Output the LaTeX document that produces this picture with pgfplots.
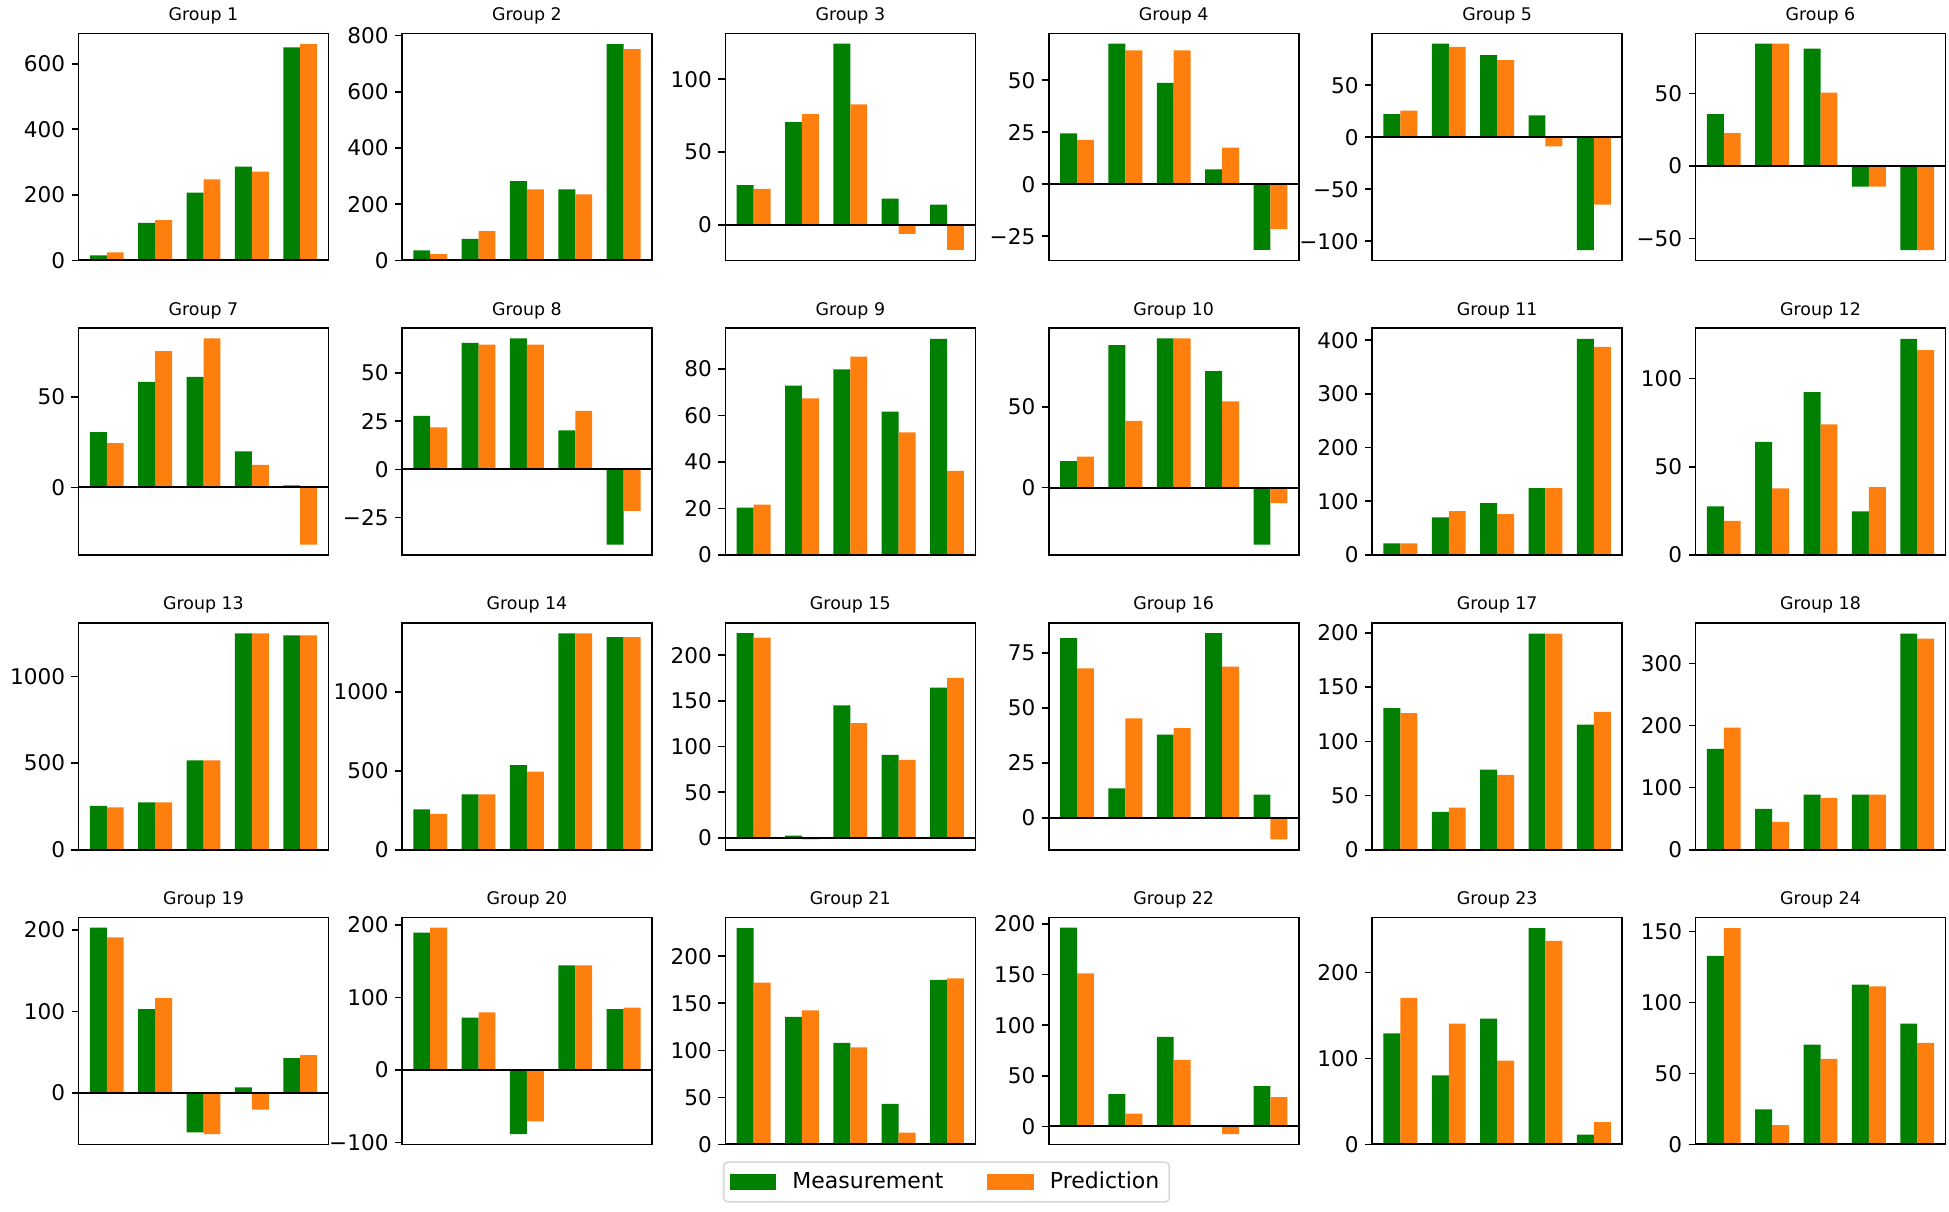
\documentclass[border=0pt]{standalone}
\usepackage{fontspec}
\setmainfont{DejaVu Sans}
\usepackage{pgfplots}
\usepackage{pgfplotstable}
\pgfplotsset{compat=1.18}
\definecolor{mgreen}{HTML}{008000}
\definecolor{morange}{HTML}{FF7F0E}

\pgfplotstableread{
i m p
0 15 24
1 114 123
2 207 247
3 286 271
4 650 660
}\tA
\pgfplotstableread{
i m p
0 35 22
1 76 104
2 282 253
3 253 235
4 770 752
}\tB
\pgfplotstableread{
i m p
0 27.2 24.6
1 70.5 76
2 124.4 82.7
3 18 -6.2
4 13.8 -17.3
}\tC
\pgfplotstableread{
i m p
0 24.5 21.3
1 67.6 64.4
2 48.7 64.4
3 7.1 17.6
4 -31.6 -21.6
}\tD
\pgfplotstableread{
i m p
0 22.3 25.5
1 90 86.8
2 79 74.2
3 21 -8.7
4 -108.4 -64.8
}\tE
\pgfplotstableread{
i m p
0 35.9 22.7
1 84.5 84.5
2 81 50.7
3 -14.1 -14.1
4 -57.9 -57.9
}\tF
\pgfplotstableread{
i m p
0 30.5 24.4
1 58.3 75.2
2 61 82.3
3 19.9 12.5
4 1.1 -31.6
}\tG
\pgfplotstableread{
i m p
0 27.7 21.8
1 65.6 64.7
2 68 64.7
3 20.2 30.4
4 -39.1 -21.6
}\tH
\pgfplotstableread{
i m p
0 20.4 21.7
1 72.9 67.4
2 79.9 85.3
3 61.7 52.8
4 93 36.2
}\tI
\pgfplotstableread{
i m p
0 16.3 19.2
1 88.4 41.3
2 92.6 92.6
3 72.3 53.5
4 -35.5 -9.7
}\tJ
\pgfplotstableread{
i m p
0 21.6 21.6
1 69.9 81.6
2 96.4 76
3 124.3 124.3
4 402.5 387.6
}\tK
\pgfplotstableread{
i m p
0 27.6 19.4
1 64.1 37.8
2 92.3 74.1
3 24.8 38.5
4 122.6 116.2
}\tL
\pgfplotstableread{
i m p
0 253 244
1 273 273
2 516 516
3 1249 1249
4 1238 1238
}\tM
\pgfplotstableread{
i m p
0 256 227
1 350 350
2 536 494
3 1369 1369
4 1346 1346
}\tN
\pgfplotstableread{
i m p
0 224.3 219.3
1 2.5 -1.7
2 145.2 125.6
3 90.8 85.3
4 164.4 175.3
}\tO
\pgfplotstableread{
i m p
0 81.8 68
1 13.5 45.3
2 37.9 40.9
3 84.1 68.8
4 10.6 -9.7
}\tP
\pgfplotstableread{
i m p
0 130.5 125.9
1 34.9 38.9
2 73.8 69.1
3 199.4 199.4
4 115.4 127.1
}\tQ
\pgfplotstableread{
i m p
0 162.4 197
1 65.8 44.8
2 89 83.6
3 89 89
4 348.6 340.5
}\tR
\pgfplotstableread{
i m p
0 202.9 190.9
1 102.9 116.5
2 -48.8 -50.8
3 6.6 -20.7
4 42.6 46.3
}\tS
\pgfplotstableread{
i m p
0 189.2 196.1
1 72.3 79.3
2 -88.5 -70.9
3 144.2 144.2
4 83.9 85.8
}\tT
\pgfplotstableread{
i m p
0 229.7 171.8
1 135.4 142.4
2 107.8 103.2
3 43.1 12.4
4 174.9 176.3
}\tU
\pgfplotstableread{
i m p
0 196.3 151.2
1 31.9 12.6
2 88.4 65.8
3 1.3 -7.6
4 39.9 28.9
}\tV
\pgfplotstableread{
i m p
0 129.3 170.5
1 80.4 140.6
2 146.4 97.5
3 251.6 236.9
4 11.3 26
}\tW
\pgfplotstableread{
i m p
0 132.8 152.3
1 24.7 13.6
2 70.3 60.2
3 112.6 111.4
4 85.1 71.5
}\tX

\pgfplotsset{
  panel/.style={
    scale only axis, width=125pt, height=113.5pt, anchor=north west,
    xmin=-0.585, xmax=4.585, xtick=\empty, clip=false,
    axis line style={line width=0.8pt},
    tick align=outside, major tick length=3.5pt,
    tick style={black, line width=0.8pt},
    ytick pos=left,
    yticklabel style={font=\fontsize{10.8}{13}\selectfont, inner sep=0pt, xshift=-3pt},
    every axis title shift=0pt,
    title style={font=\fontsize{8.7}{10}\selectfont, at={(0.5,1)}, anchor=base, inner sep=0pt, yshift=6.5pt},
  }
}
\newcommand{\grp}[8]{%
\begin{axis}[panel, at={(#3pt,-#4pt)}, ymin=#5, ymax=#6, ytick={#7}, yticklabels={#8}, title={Group #1}]
\addplot[ybar, bar width=0.35, bar shift=0pt, fill=mgreen, draw=none] table[x expr=\thisrow{i}-0.175, y=m] {#2};
\addplot[ybar, bar width=0.35, bar shift=0pt, fill=morange, draw=none] table[x expr=\thisrow{i}+0.175, y=p] {#2};
\addplot[black, line width=1pt, mark=none] coordinates {(-0.585,0) (4.585,0)};
\end{axis}}

\begin{document}
\begin{tikzpicture}
\useasboundingbox (0,0) rectangle (974.5pt,-605.5pt);
\grp{1}{\tA}{39.25}{16.65}{0}{693}{0,200,400,600}{0,200,400,600}
\grp{2}{\tB}{200.95}{16.65}{0}{808.5}{0,200,400,600,800}{0,200,400,600,800}
\grp{3}{\tC}{362.65}{16.65}{-24.4}{131.5}{0,50,100}{0,50,100}
\grp{4}{\tD}{524.35}{16.65}{-36.56}{72.56}{-25,0,25,50}{−25,0,25,50}
\grp{5}{\tE}{686.05}{16.65}{-118.3}{99.9}{-100,-50,0,50,100}{−100,−50,0,50,100}
\grp{6}{\tF}{847.75}{16.65}{-65}{91.6}{-50,0,50}{−50,0,50}
\grp{7}{\tG}{39.25}{164}{-37.3}{88}{0,50}{0,50}
\grp{8}{\tH}{200.95}{164}{-44.46}{73.36}{-25,0,25,50}{−25,0,25,50}
\grp{9}{\tI}{362.65}{164}{0}{97.65}{0,20,40,60,80}{0,20,40,60,80}
\grp{10}{\tJ}{524.35}{164}{-41.9}{99}{0,50}{0,50}
\grp{11}{\tK}{686.05}{164}{0}{422.6}{0,100,200,300,400}{0,100,200,300,400}
\grp{12}{\tL}{847.75}{164}{0}{128.7}{0,50,100}{0,50,100}
\grp{13}{\tM}{39.25}{311.35}{0}{1311}{0,500,1000}{0,500,1000}
\grp{14}{\tN}{200.95}{311.35}{0}{1437}{0,500,1000}{0,500,1000}
\grp{15}{\tO}{362.65}{311.35}{-13}{235.6}{0,50,100,150,200}{0,50,100,150,200}
\grp{16}{\tP}{524.35}{311.35}{-14.39}{88.79}{0,25,50,75}{0,25,50,75}
\grp{17}{\tQ}{686.05}{311.35}{0}{209.4}{0,50,100,150,200}{0,50,100,150,200}
\grp{18}{\tR}{847.75}{311.35}{0}{366}{0,100,200,300}{0,100,200,300}
\grp{19}{\tS}{39.25}{458.7}{-63.49}{215.59}{0,100,200}{0,100,200}
\grp{20}{\tT}{200.95}{458.7}{-102.73}{210.33}{-100,0,100,200}{−100,0,100,200}
\grp{21}{\tU}{362.65}{458.7}{0}{241.2}{0,50,100,150,200}{0,50,100,150,200}
\grp{22}{\tV}{524.35}{458.7}{-17.8}{206.5}{0,50,100,150,200}{0,50,100,150,200}
\grp{23}{\tW}{686.05}{458.7}{0}{264.2}{0,100,200}{0,100,200}
\grp{24}{\tX}{847.75}{458.7}{0}{159.9}{0,50,100,150}{0,50,100,150}
\begin{axis}[hide axis, scale only axis, width=10pt, height=10pt,
  at={(473.25pt,-591pt)}, anchor=center, xmin=0, xmax=1, ymin=0, ymax=1,
  legend columns=2,
  legend style={at={(0.5,0.5)}, anchor=center, draw=black!15, rounded corners=2pt,
    line width=0.8pt, font=\fontsize{11}{13}\selectfont, inner xsep=3pt, inner ysep=3pt,
    /tikz/every even column/.append style={column sep=20pt}},
  legend image code/.code={\fill[#1, sharp corners] (0pt,-3.5pt) rectangle (22.5pt,3.5pt); \path (28.5pt,0pt);}]
\addlegendimage{mgreen}\addlegendentry{Measurement}
\addlegendimage{morange}\addlegendentry{Prediction}
\end{axis}
\end{tikzpicture}
\end{document}
